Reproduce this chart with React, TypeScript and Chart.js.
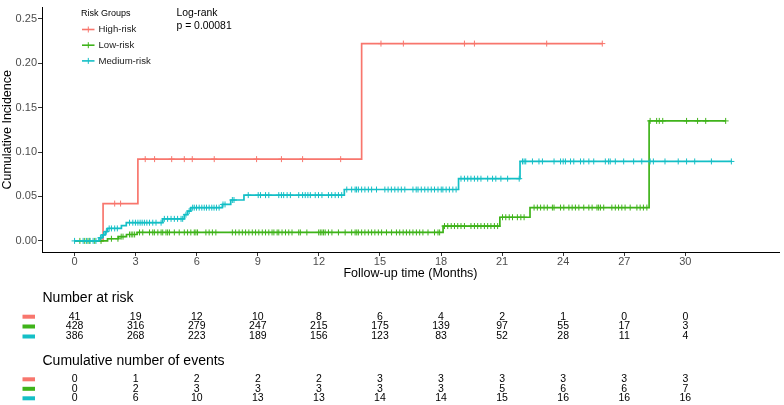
import React, { useEffect, useRef } from "react";
import { Chart, registerables } from "chart.js";

Chart.register(...registerables);

const FONT = "'Liberation Sans', Arial, Helvetica, sans-serif";

// ---- groups ----
const groupNames = ["High-risk", "Low-risk", "Medium-risk"];
const groupColors = ["#F8766D", "#3FB31A", "#14BFC6"];

// ---- step curves (time in months, cumulative incidence) ----
const highTimes = [0, 1.4, 3.11, 14.1, 25.92];
const highCI = [0, 0.042, 0.092, 0.222, 0.222];
const highCensor = [1.97, 2.26, 3.47, 3.93, 4.77, 5.39, 5.78, 6.86, 8.94, 10.16, 11.2, 13.07, 15.05, 16.15, 19.15, 19.64, 23.19, 25.92];

const lowTimes = [0, 1.62, 2.15, 2.55, 3.07, 18.1, 20.89, 22.37, 28.22, 31.98];
const lowCI = [0, 0.0024, 0.0048, 0.0072, 0.0095, 0.0167, 0.0266, 0.0375, 0.135, 0.135];
const lowCensor = [
  0.26, 0.5, 0.66, 0.75, 0.99, 1.3, 1.81, 2.13, 2.29, 2.38, 2.7, 2.78, 2.86, 2.95, 3.19, 3.35, 3.68, 3.84, 3.92,
  4.09, 4.25, 4.33, 4.49, 4.57, 4.66, 4.9, 5.14, 5.39, 5.55, 5.71, 5.88, 5.96, 6.04, 6.45, 6.61, 6.77, 6.94,
  7.75, 7.91, 8.08, 8.24, 8.4, 8.56, 8.73, 8.89, 9.05, 9.22, 9.38, 9.54, 9.7, 9.79, 9.95, 10.03, 10.19, 10.36,
  10.52, 10.68, 11.01, 11.09, 11.41, 11.99, 12.07, 12.15, 12.23, 12.31, 12.47, 12.64, 12.96, 13.29, 13.61,
  13.78, 13.86, 13.94, 14.1, 14.26, 14.43, 14.59, 14.75, 14.92, 15.08, 15.32, 15.57, 15.81, 15.97, 16.14,
  16.3, 16.46, 16.62, 16.79, 16.95, 17.11, 17.36, 17.68, 17.85, 17.93, 18.17, 18.33, 18.5, 18.66, 18.82,
  18.98, 19.15, 19.47, 19.64, 19.8, 19.96, 20.13, 20.29, 20.45, 20.62, 20.78, 21.02, 21.18, 21.35, 21.51,
  21.75, 21.92, 22.08, 22.57, 22.73, 22.89, 23.06, 23.22, 23.47, 23.55, 23.87, 24.03, 24.28, 24.44, 24.6,
  24.77, 25.01, 25.26, 25.42, 25.66, 25.74, 25.83, 25.99, 26.39, 26.56, 26.72, 26.88, 27.04, 27.29, 27.62,
  27.78, 27.94, 28.11, 28.27, 28.59, 28.72, 28.89, 30.06, 30.6, 31.0, 31.98,
];

const medTimes = [0, 1.2, 1.35, 1.5, 1.62, 2.3, 2.54, 4.33, 5.39, 5.55, 5.71, 7.26, 7.67, 8.32, 13.25, 18.86, 21.88, 32.26];
const medCI = [0, 0.0035, 0.0068, 0.0105, 0.014, 0.0172, 0.0205, 0.0248, 0.0295, 0.0336, 0.0374, 0.041, 0.046, 0.0515, 0.0578, 0.07, 0.0894, 0.0894];
const medCensor = [
  0.0, 0.42, 0.59, 0.75, 0.91, 1.05, 1.27, 1.42, 1.56, 1.7, 1.81, 1.97, 2.1, 2.7, 2.86, 2.99, 3.11, 3.22, 3.32,
  3.43, 3.55, 3.68, 3.84, 4.0, 4.25, 4.41, 4.57, 4.74, 4.9, 5.06, 5.23, 5.31, 5.47, 5.63, 5.8, 5.88, 5.99, 6.12,
  6.25, 6.37, 6.48, 6.61, 6.74, 6.85, 6.97, 7.1, 7.29, 7.39, 7.75, 7.83, 8.53, 9.02, 9.13, 9.38, 9.54, 10.03,
  10.16, 10.27, 10.44, 10.6, 11.01, 11.2, 11.33, 11.46, 11.58, 11.82, 11.98, 12.15, 12.47, 12.63, 12.8, 12.96,
  13.12, 13.37, 13.61, 13.78, 13.85, 13.94, 14.1, 14.26, 14.43, 14.59, 14.83, 15.24, 15.4, 15.56, 15.73,
  15.89, 16.05, 16.22, 16.62, 16.78, 16.87, 17.03, 17.2, 17.36, 17.52, 17.68, 17.85, 18.01, 18.09, 18.25,
  18.41, 18.58, 18.74, 18.98, 19.15, 19.31, 19.47, 19.64, 19.8, 19.96, 20.29, 20.53, 20.69, 20.94, 21.27,
  21.84, 22.0, 22.08, 22.16, 22.49, 22.81, 22.98, 23.55, 23.87, 24.0, 24.11, 24.36, 24.52, 24.85, 25.01,
  25.26, 25.5, 26.07, 26.23, 26.31, 26.56, 26.97, 27.46, 27.86, 28.27, 28.43, 29.0, 29.65, 30.06, 30.46,
  31.28, 32.26,
];

// ---- axes ----
const xTicks = [0, 3, 6, 9, 12, 15, 18, 21, 24, 27, 30];
const yTicks = [0, 0.05, 0.1, 0.15, 0.2, 0.25];

// ---- risk tables ----
const tableTimes = [0, 3, 6, 9, 12, 15, 18, 21, 24, 27, 30];
const riskHigh = [41, 19, 12, 10, 8, 6, 4, 2, 1, 0, 0];
const riskLow = [428, 316, 279, 247, 215, 175, 139, 97, 55, 17, 3];
const riskMed = [386, 268, 223, 189, 156, 123, 83, 52, 28, 11, 4];
const eventsHigh = [0, 1, 2, 2, 2, 3, 3, 3, 3, 3, 3];
const eventsLow = [0, 2, 3, 3, 3, 3, 3, 5, 6, 6, 7];
const eventsMed = [0, 6, 10, 13, 13, 14, 14, 15, 16, 16, 16];

const legendTitle = "Risk Groups";
const testLines = ["Log-rank", "p = 0.00081"];
const riskTitle = "Number at risk";
const eventsTitle = "Cumulative number of events";

function stepAt(times: number[], vals: number[], t: number) {
  let v = vals[0];
  for (let i = 0; i < times.length; i++) {
    if (times[i] <= t) v = vals[i];
  }
  return v;
}

const curves = [
  { times: highTimes, ci: highCI, censor: highCensor },
  { times: lowTimes, ci: lowCI, censor: lowCensor },
  { times: medTimes, ci: medCI, censor: medCensor },
];

const overlayPlugin = {
  id: "kmOverlay",
  afterDraw(chart: any) {
    const ctx = chart.ctx as CanvasRenderingContext2D;
    const xs = chart.scales.x;
    ctx.save();
    // legend
    ctx.textBaseline = "middle";
    ctx.textAlign = "left";
    ctx.fillStyle = "#000";
    ctx.font = `9px ${FONT}`;
    ctx.fillText(legendTitle, 81, 13.5);
    groupNames.forEach((g, i) => {
      const y = 29.5 + i * 15.7;
      ctx.strokeStyle = groupColors[i];
      ctx.lineWidth = 1.6;
      ctx.beginPath();
      ctx.moveTo(82, y);
      ctx.lineTo(94.5, y);
      ctx.stroke();
      ctx.lineWidth = 1;
      ctx.beginPath();
      ctx.moveTo(88.3, y - 3);
      ctx.lineTo(88.3, y + 3);
      ctx.stroke();
      ctx.fillStyle = "#1a1a1a";
      ctx.font = `9.6px ${FONT}`;
      ctx.fillText(g, 98.5, y);
    });
    // test annotation
    ctx.fillStyle = "#000";
    ctx.font = `10.4px ${FONT}`;
    ctx.fillText(testLines[0], 176.5, 12.7);
    ctx.fillText(testLines[1], 176.5, 26.5);

    // tables
    const drawTable = (title: string, titleY: number, rowsY: number[], rows: number[][]) => {
      ctx.textAlign = "left";
      ctx.fillStyle = "#000";
      ctx.font = `14px ${FONT}`;
      ctx.fillText(title, 42.5, titleY);
      rows.forEach((row, i) => {
        const y = rowsY[i];
        ctx.fillStyle = groupColors[i];
        ctx.fillRect(22.5, y - 2, 12.5, 4);
        ctx.fillStyle = "#000";
        ctx.textAlign = "center";
        ctx.font = `10.5px ${FONT}`;
        row.forEach((v, j) => {
          ctx.fillText(String(v), xs.getPixelForValue(tableTimes[j]), y);
        });
      });
    };
    drawTable(riskTitle, 298.5, [316.7, 326.5, 336.5], [riskHigh, riskLow, riskMed]);
    drawTable(eventsTitle, 361, [379.3, 388.8, 398.3], [eventsHigh, eventsLow, eventsMed]);
    ctx.restore();
  },
};

export default function App() {
  const ref = useRef<HTMLCanvasElement | null>(null);
  useEffect(() => {
    if (!ref.current) return;
    const datasets: any[] = [];
    // order: medium on top, then low, then high
    const drawOrder = [2, 1, 0];
    drawOrder.forEach((gi, k) => {
      const c = curves[gi];
      datasets.push({
        type: "line",
        label: groupNames[gi],
        data: c.times.map((t, i) => ({ x: t, y: c.ci[i] })),
        borderColor: groupColors[gi],
        borderWidth: 1.7,
        stepped: "before",
        pointRadius: 0,
        fill: false,
        order: k * 2 + 1,
      });
      datasets.push({
        type: "scatter",
        label: groupNames[gi] + " censored",
        data: c.censor.map((t) => ({ x: t, y: stepAt(c.times, c.ci, t) })),
        borderColor: groupColors[gi],
        backgroundColor: groupColors[gi],
        pointStyle: "cross",
        pointRadius: 3,
        pointBorderWidth: 1,
        showLine: false,
        order: k * 2,
      });
    });

    const chart = new Chart(ref.current, {
      type: "line",
      data: { datasets },
      options: {
        responsive: false,
        animation: false,
        events: [],
        layout: { padding: { left: 0, right: 1, top: 0, bottom: 123 } },
        plugins: { legend: { display: false }, tooltip: { enabled: false } },
        scales: {
          x: {
            type: "linear",
            min: -1.6,
            max: 34.6,
            afterBuildTicks: (s: any) => {
              s.ticks = xTicks.map((v) => ({ value: v }));
            },
            afterFit: (s: any) => {
              s.height = 30;
            },
            grid: { drawOnChartArea: false, drawTicks: true, tickLength: 4, color: "#333", lineWidth: 1 },
            border: { display: true, color: "#000", width: 1 },
            ticks: {
              padding: 0,
              color: "#4D4D4D",
              autoSkip: false,
              maxRotation: 0,
              font: { family: FONT, size: 11, lineHeight: 1 },
              callback: (v: any) => String(v),
            },
            title: {
              display: true,
              text: "Follow-up time (Months)",
              color: "#000",
              font: { family: FONT, size: 12.5, lineHeight: 1.2 },
              padding: { top: 0, bottom: 1 },
            },
          },
          y: {
            type: "linear",
            min: -0.0125,
            max: 0.2625,
            afterBuildTicks: (s: any) => {
              s.ticks = yTicks.map((v) => ({ value: v }));
            },
            afterFit: (s: any) => {
              s.width = 42;
            },
            grid: { drawOnChartArea: false, drawTicks: true, tickLength: 4, color: "#333", lineWidth: 1 },
            border: { display: true, color: "#000", width: 1 },
            ticks: {
              padding: 1,
              color: "#4D4D4D",
              font: { family: FONT, size: 11 },
              callback: (v: any) => Number(v).toFixed(2),
            },
            title: {
              display: true,
              text: "Cumulative Incidence",
              color: "#000",
              font: { family: FONT, size: 12.5, lineHeight: 1.2 },
              padding: { top: 0, bottom: 0 },
            },
          },
        },
      },
      plugins: [overlayPlugin],
    } as any);
    return () => chart.destroy();
  }, []);

  return (
    <div style={{ position: "absolute", left: 0, top: 0, width: 784, height: 405, background: "#fff" }}>
      <canvas ref={ref} width={784} height={405} style={{ display: "block" }} />
    </div>
  );
}
